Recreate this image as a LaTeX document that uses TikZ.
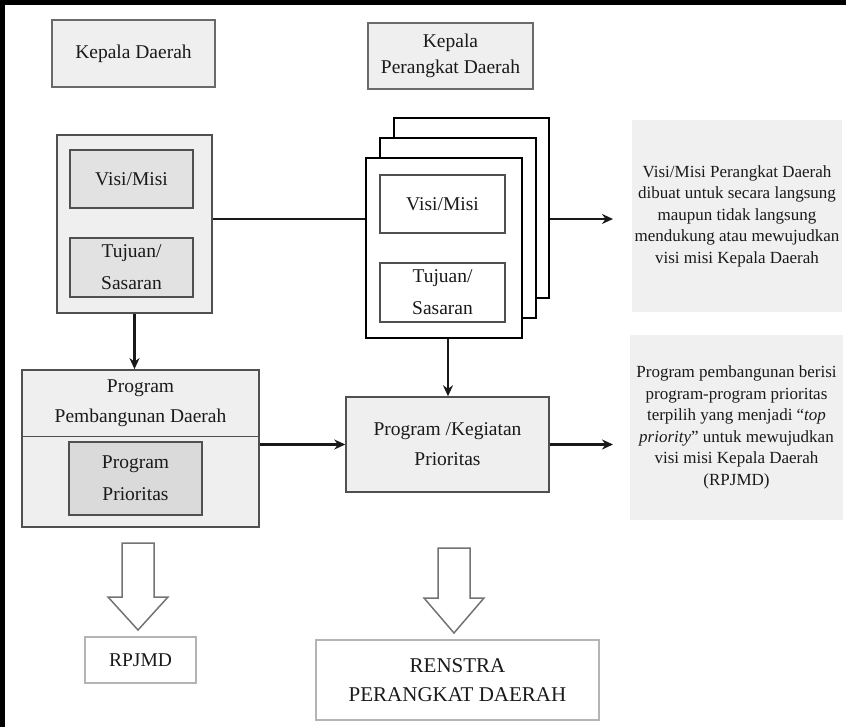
\documentclass[tikz,border=0pt]{standalone}
\usepackage{fontspec}
\setmainfont{Liberation Serif}
\usetikzlibrary{arrows.meta}
\definecolor{txt}{HTML}{1A1A1A}
\definecolor{bord}{HTML}{505050}
\definecolor{boxfill}{HTML}{EFEFEF}
\definecolor{innerfill}{HTML}{E2E2E2}
\definecolor{ppfill}{HTML}{DADADA}
\definecolor{notefill}{HTML}{F0F0F0}
\definecolor{lightbord}{HTML}{B4B4B4}
\begin{document}
\begin{tikzpicture}[x=1pt,y=-1pt,
  every node/.style={inner sep=0pt, align=center, text=txt, font=\fontsize{19.5}{30}\selectfont},
  topbox/.style={draw=bord!85, fill=boxfill, line width=1.5pt},
  outerbox/.style={draw=bord, fill=boxfill, line width=1.8pt},
  innerbox/.style={draw=bord, fill=innerfill, line width=1.4pt, font=\fontsize{19.5}{32}\selectfont},
  pagebox/.style={draw=black, fill=white, line width=1.8pt},
  whitebox/.style={draw=bord, fill=white, line width=1.4pt, font=\fontsize{19.5}{32}\selectfont},
  notebox/.style={fill=notefill, font=\fontsize{17}{21.5}\selectfont},
  outbox/.style={draw=lightbord, fill=white, line width=1.3pt},
  conn/.style={draw=black!90, line width=2.3pt},
  arr/.style={conn, -{Stealth[length=11pt,width=10pt]}},
  blockarrow/.style={draw=bord!80, fill=white, line width=1.5pt, line join=miter}
]
\useasboundingbox (0,0) rectangle (846,727);
\fill[white] (0,0) rectangle (846,727);
\fill[black] (0,0) rectangle (846,5);
\fill[black] (0,0) rectangle (5,727);

% top labels
\node[topbox, minimum width=163pt, minimum height=67pt] (kd) at (133.5,53.5) {Kepala Daerah};
\node[topbox, minimum width=165pt, minimum height=66pt, font=\fontsize{19.5}{26}\selectfont] (kpd) at (450.5,56) {Kepala\\Perangkat Daerah};

% left column
\node[outerbox, minimum width=155pt, minimum height=178pt] (lbox) at (134.5,224) {};
\node[innerbox, minimum width=123pt, minimum height=58pt] (lvm) at (131.5,179) {Visi/Misi};
\node[innerbox, minimum width=123pt, minimum height=59pt] (ltj) at (131.5,267.5) {Tujuan/\\Sasaran};

% stacked pages
\node[pagebox, minimum width=155pt, minimum height=180pt] (back) at (471.5,208) {};
\node[pagebox, minimum width=156pt, minimum height=180pt] (middle) at (458,228) {};
\node[pagebox, minimum width=156pt, minimum height=180pt] (front) at (444,248) {};
\node[whitebox, minimum width=125pt, minimum height=58pt] (fvm) at (442.5,204) {Visi/Misi};
\node[whitebox, minimum width=125pt, minimum height=59pt] (ftj) at (442.5,292.5) {Tujuan/\\Sasaran};

% notes
\node[notebox, minimum width=210pt, minimum height=192pt] (n1) at (737,216)
  {Visi/Misi Perangkat Daerah\\dibuat untuk secara langsung\\maupun tidak langsung\\mendukung atau mewujudkan\\visi misi Kepala Daerah};
\node[notebox, minimum width=213pt, minimum height=185pt] (n2) at (736.5,427.5)
  {Program pembangunan berisi\\program-program prioritas\\terpilih yang menjadi ``\textit{top}\\\textit{priority}'' untuk mewujudkan\\visi misi Kepala Daerah\\(RPJMD)};

% programs
\node[outerbox, minimum width=237pt, minimum height=157pt] (ppd) at (140.5,448.5) {};
\node (ppdt) at (140.5,403) {Program\\Pembangunan Daerah};
\draw[bord, line width=1.2pt] ([yshift=-67pt]ppd.north west) -- ([yshift=-67pt]ppd.north east);
\node[innerbox, fill=ppfill, minimum width=133pt, minimum height=73pt] (pp) at (135.5,478.5) {Program\\Prioritas};
\node[outerbox, line width=1.5pt, minimum width=203pt, minimum height=95pt] (pkp) at (447.5,444.5) {Program /Kegiatan\\Prioritas};

% outputs
\node[outbox, minimum width=111pt, minimum height=46pt] (rpjmd) at (140.5,660) {RPJMD};
\node[outbox, minimum width=283pt, minimum height=80pt, font=\fontsize{21}{29}\selectfont] (renstra) at (457.5,680) {RENSTRA\\PERANGKAT DAERAH};

% connectors
\coordinate (lj) at ([yshift=5pt]lbox.east);
\draw[conn] (lj) -- (lj -| front.west);
\coordinate (n1in) at (613,219);
\draw[arr] (n1in -| back.east) -- (n1in);
\draw[arr] (lbox.south) -- (lbox.south |- ppd.north);
\draw[arr] ([xshift=4pt]front.south) -- ([xshift=4pt]front.south |- pkp.north);
\draw[arr] (ppd.east |- pkp.west) -- (pkp.west);
\coordinate (n2in) at (613,444.5);
\draw[arr] (pkp.east) -- (n2in);

% block arrows
\draw[blockarrow] (122,543) -- (154,543) -- (154,597) -- (168,597) -- (138,630) -- (108,597) -- (122,597) -- cycle;
\draw[blockarrow] (438,548) -- (470,548) -- (470,598) -- (484,598) -- (454,633) -- (424,598) -- (438,598) -- cycle;
\end{tikzpicture}
\end{document}
